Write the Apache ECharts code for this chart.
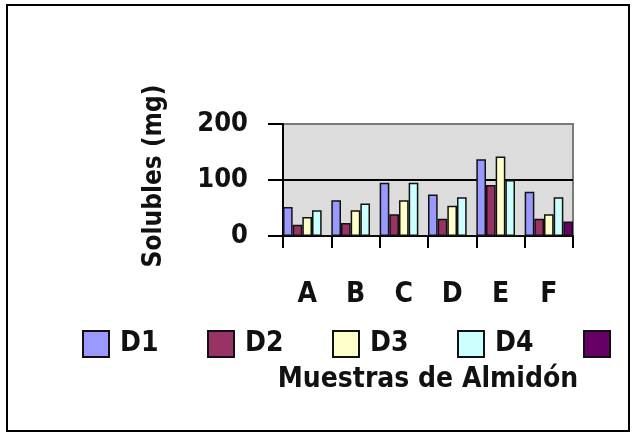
<!DOCTYPE html>
<html>
<head>
<meta charset="utf-8">
<script src="https://cdn.jsdelivr.net/npm/echarts@6/dist/echarts.min.js"></script>
<style>
html,body{margin:0;padding:0;background:#fff;}
#frame{position:absolute;left:6px;top:4px;width:624px;height:428px;border:2px solid #000;box-sizing:border-box;}
#c{position:absolute;left:0;top:0;width:634px;height:439px;}
</style>
</head>
<body>
<div id="c"></div>
<div id="frame"></div>
<script>
const categories = ['A', 'B', 'C', 'D', 'E', 'F'];
const seriesNames = ['D1', 'D2', 'D3', 'D4', 'D5'];
const d1 = [52, 64, 95, 74, 137, 79];
const d2 = [20, 23, 39, 31, 91, 31];
const d3 = [34, 46, 64, 54, 142, 39];
const d4 = [46, 58, 95, 69, 100, 69];
const d5 = [0, 0, 0, 0, 0, 26];
const yTicks = [0, 100, 200];

const values = [d1, d2, d3, d4, d5];
const colors = ['#9999ff', '#993366', '#ffffcc', '#ccffff', '#660066'];
const legendLeft = [82, 207, 332, 457, 583];
const font = '"DejaVu Sans Condensed", "DejaVu Sans", sans-serif';

const chart = echarts.init(document.getElementById('c'), null, {renderer: 'canvas'});
chart.setOption({
  animation: false,
  backgroundColor: '#ffffff',
  grid: {left: 283, right: 61, top: 124, bottom: 203, show: true,
    backgroundColor: '#dcdcdc', borderColor: '#7a7a7a', borderWidth: 2},
  legend: seriesNames.map((n, i) => ({
    data: [n], left: legendLeft[i], top: 330, itemWidth: 26, itemHeight: 26,
    itemGap: 0, icon: 'rect', padding: 0,
    itemStyle: {borderColor: '#111', borderWidth: 2},
    formatter: name => name === 'D5' ? '' : name,
    textStyle: {fontFamily: font, fontWeight: 'bold', fontSize: 28, color: '#111', padding: [0, 0, 9, 6]},
    selectedMode: false
  })),
  xAxis: {
    type: 'category', data: categories,
    name: 'Muestras de Almidón', nameLocation: 'middle', nameGap: 130,
    nameTextStyle: {fontFamily: font, fontSize: 28, fontWeight: 'bold', color: '#111'},
    axisLine: {lineStyle: {color: '#000', width: 2}},
    axisTick: {show: true, length: 12, lineStyle: {color: '#000', width: 2}, interval: 0},
    axisLabel: {margin: 45, fontFamily: font, fontSize: 28, fontWeight: 'bold', color: '#111', interval: 0}
  },
  yAxis: {
    type: 'value', min: yTicks[0], max: yTicks[2], interval: 100,
    name: 'Solubles (mg)', nameLocation: 'middle', nameRotate: 90, nameGap: 116,
    nameTextStyle: {fontFamily: font, fontSize: 26, fontWeight: 'bold', color: '#111', padding: [0, 0, 0, 8]},
    axisLine: {show: true, lineStyle: {color: '#000', width: 2}},
    axisTick: {show: true, length: 15, lineStyle: {color: '#000', width: 2}},
    axisLabel: {margin: 35, fontFamily: font, fontSize: 27, fontWeight: 'bold', color: '#111', padding: [0, 0, 9, 0]},
    splitLine: {show: true, showMinLine: false, showMaxLine: false, lineStyle: {color: '#000', width: 2}}
  },
  series: seriesNames.map((n, i) => ({
    name: n, type: 'bar', data: values[i],
    barGap: '0%', barCategoryGap: '0%',
    itemStyle: {color: colors[i], borderColor: '#111', borderWidth: 1.5}
  }))
});
</script>
</body>
</html>
